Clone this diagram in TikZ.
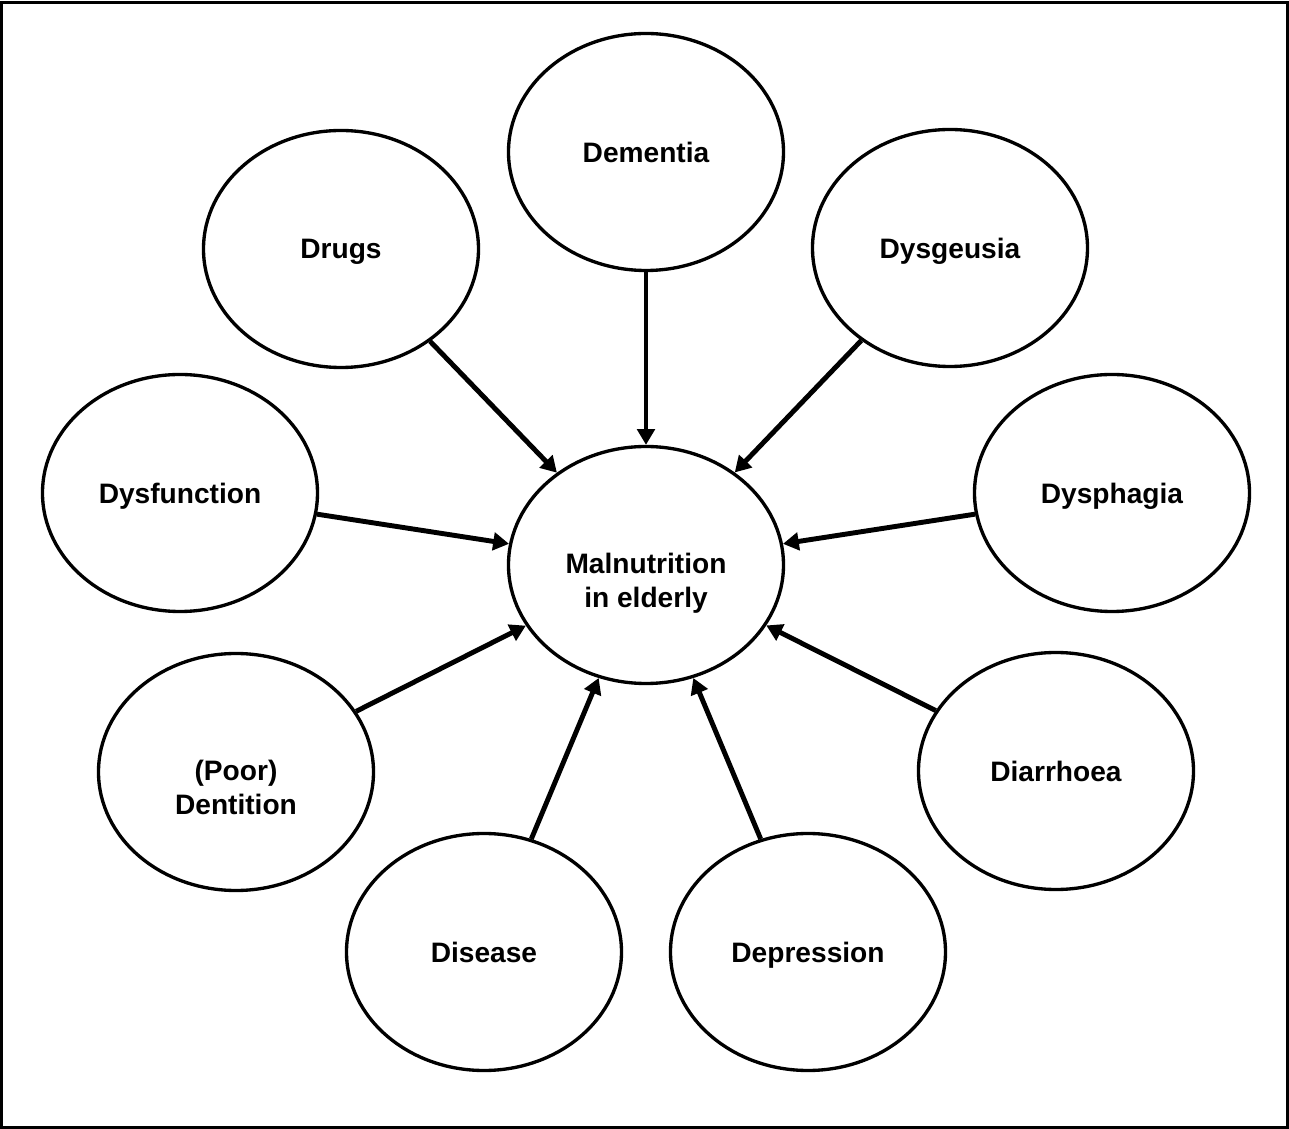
\documentclass[tikz,border=0pt]{standalone}
\usepackage{fontspec}
\setmainfont{Liberation Sans}
\usepackage{tikz}
\usetikzlibrary{arrows.meta,shapes.geometric}

\begin{document}
\begin{tikzpicture}[->,>={Triangle[length=9pt,width=10pt]},line width=2.8pt]
        \tikzstyle{cause}=[draw=black,ellipse,line width=1.9pt,inner sep=0pt,
            minimum width=5.5cm,minimum height=4.74cm,align=center,text depth=0pt,
            font=\fontsize{16}{19}\selectfont\bfseries]
        \tikzstyle{twoline}=[text height=48pt]

        \useasboundingbox (-12.92,-11.28) rectangle (12.86,11.30);
        \draw[-,line width=1.9pt] (-12.89,-11.25) rectangle (12.83,11.25);

        \node[cause,twoline] (M) at (0,0) {Malnutrition\\in elderly};
        \node[cause] (Dem) at (0,8.26) {Dementia};
        \node[cause] (Dru) at (-6.10,6.32) {Drugs};
        \node[cause] (Dys) at (6.08,6.34) {Dysgeusia};
        \node[cause] (Dfu) at (-9.32,1.44) {Dysfunction};
        \node[cause] (Dph) at (9.32,1.44) {Dysphagia};
        \node[cause,twoline] (Den) at (-8.20,-4.14) {(Poor)\\Dentition};
        \node[cause] (Dia) at (8.20,-4.12) {Diarrhoea};
        \node[cause] (Dis) at (-3.24,-7.74) {Disease};
        \node[cause] (Dep) at (3.24,-7.74) {Depression};

        \foreach \n in {Dem,Dru,Dys,Dfu,Dph,Den,Dia,Dis,Dep}
            \draw (\n) -- (M);
    \end{tikzpicture}
\end{document}
